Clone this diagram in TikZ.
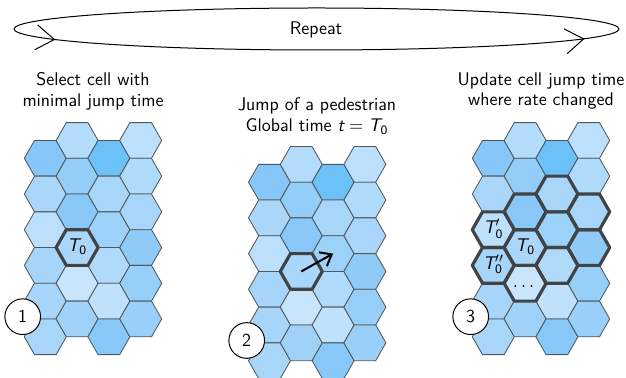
\documentclass[tikz,border=0pt]{standalone}
\usepackage{amsmath}
\usetikzlibrary{arrows.meta,decorations.markings}
\renewcommand{\familydefault}{\sfdefault}
\newcommand{\sfT}{\text{\sffamily\slshape T}}
\newcommand{\sfz}{\text{\sffamily 0}}
\definecolor{hexline}{HTML}{4F565C}
\definecolor{hexbold}{HTML}{404447}
\tikzset{
  hexthin/.style={draw=hexline,line width=0.5pt,line join=round},
  hexthick/.style={draw=hexbold,line width=1.9pt,line join=round},
  celllabel/.style={font=\fontsize{11}{12.5}\selectfont,inner sep=0pt,text height=1.6ex,text depth=0.5ex},
  title/.style={font=\fontsize{11}{12.5}\selectfont,align=center,inner sep=0pt},
  numcirc/.style={circle,draw=black,fill=white,line width=0.6pt,minimum size=21.4pt,inner sep=0pt,font=\fontsize{11}{12.5}\selectfont},
  jumparrow/.style={line width=1.2pt,-{Straight Barb[length=6pt,width=9.5pt]}},
  loopline/.style={line width=0.6pt,postaction={decorate},
    decoration={markings,
      mark=at position 0.0357 with {\arrow{Straight Barb[length=11pt,width=15pt]}},
      mark=at position 0.470 with {\arrow{Straight Barb[length=11pt,width=15pt]}}}}
}
\newcommand{\hexat}[2]{++(21,0) -- ++(-10.2,17.85) -- ++(-21.6,0) -- ++(-10.2,-17.85) -- ++(10.2,-17.85) -- ++(21.6,0) -- cycle}
\begin{document}
\begin{tikzpicture}[x=0.6pt,y=-0.6pt]
\useasboundingbox (0,0) rectangle (626,378);
% repeat loop
\coordinate (eL) at (14,29);
\draw[loopline] (eL) arc[start angle=180,end angle=0,x radius=302.5,y radius=21]
  arc[start angle=0,end angle=-180,x radius=302.5,y radius=21];
\node[title] (rep) at (316,30) {Repeat};
% grids
\foreach \gx/\gy/\gn in {45.3/158.3/1, 269.5/182.2/2, 493.3/158.3/3}{
  \foreach \c/\r/\col in {0/0/86C6F8,0/1/A9D6F9,0/2/BCDFFB,0/3/A6D5F9,0/4/A6D5F9,0/5/A8D6F9,
    1/0/B3DBFA,1/1/94CDF8,1/2/88C7F8,1/3/A9D6F9,1/4/C9E5FC,1/5/A0D2F8,
    2/0/6DC1F9,2/1/A8D6F9,2/2/9CD1F8,2/3/B0DAFA,2/4/BFE1FB,2/5/86C8F8,
    3/0/BCE0FB,3/1/B0DAFA,3/2/A8D5F9,3/3/90CBF8,3/4/98CFF8,3/5/99CFF8}{
    \pgfmathsetmacro{\cx}{\gx+\c*31.8}
    \pgfmathsetmacro{\cy}{\gy+\r*35.7-mod(\c,2)*17.85}
    \definecolor{cellc}{HTML}{\col}
    \coordinate (g\gn-\c-\r) at (\cx,\cy);
    \path[hexthin,fill=cellc] (\cx,\cy) \hexat{}{};
  }
}
% bold outlines
\path[hexthick] (g1-1-3) \hexat{}{};
\path[hexthick] (g2-1-3) \hexat{}{};
\foreach \c/\r in {0/2,0/3,1/2,1/3,1/4,2/1,2/2,2/3,3/2,3/3}{
  \path[hexthick] (g3-\c-\r) \hexat{}{};
}
% labels
\node[celllabel] (l1) at (g1-1-3) {$\sfT_{\sfz}$};
\node[celllabel] (l3a) at (g3-1-3) {$\sfT_{\sfz}$};
\node[celllabel] (l3b) at (g3-0-2) {$\sfT'_{\sfz}$};
\node[celllabel] (l3c) at (g3-0-3) {$\sfT''_{\sfz}$};
\node[celllabel] (l3d) at (g3-1-4) {$\dots$};
\draw[jumparrow] (g2-1-3) -- (g2-2-2);
% titles
\node[title] (t1) at (93,91) {Select cell with\\minimal jump time};
\node[title] (t2) at (317,116) {Jump of a pedestrian\\Global time $\text{\sffamily\slshape t}=\sfT_{\sfz}$};
\node[title] (t3) at (541,91) {Update cell jump time\\where rate changed};
% step numbers
\node[numcirc] (n1) at (22.7,316.7) {1};
\node[numcirc] (n2) at (246.7,340.5) {2};
\node[numcirc] (n3) at (470.7,316.7) {3};
\end{tikzpicture}
\end{document}
